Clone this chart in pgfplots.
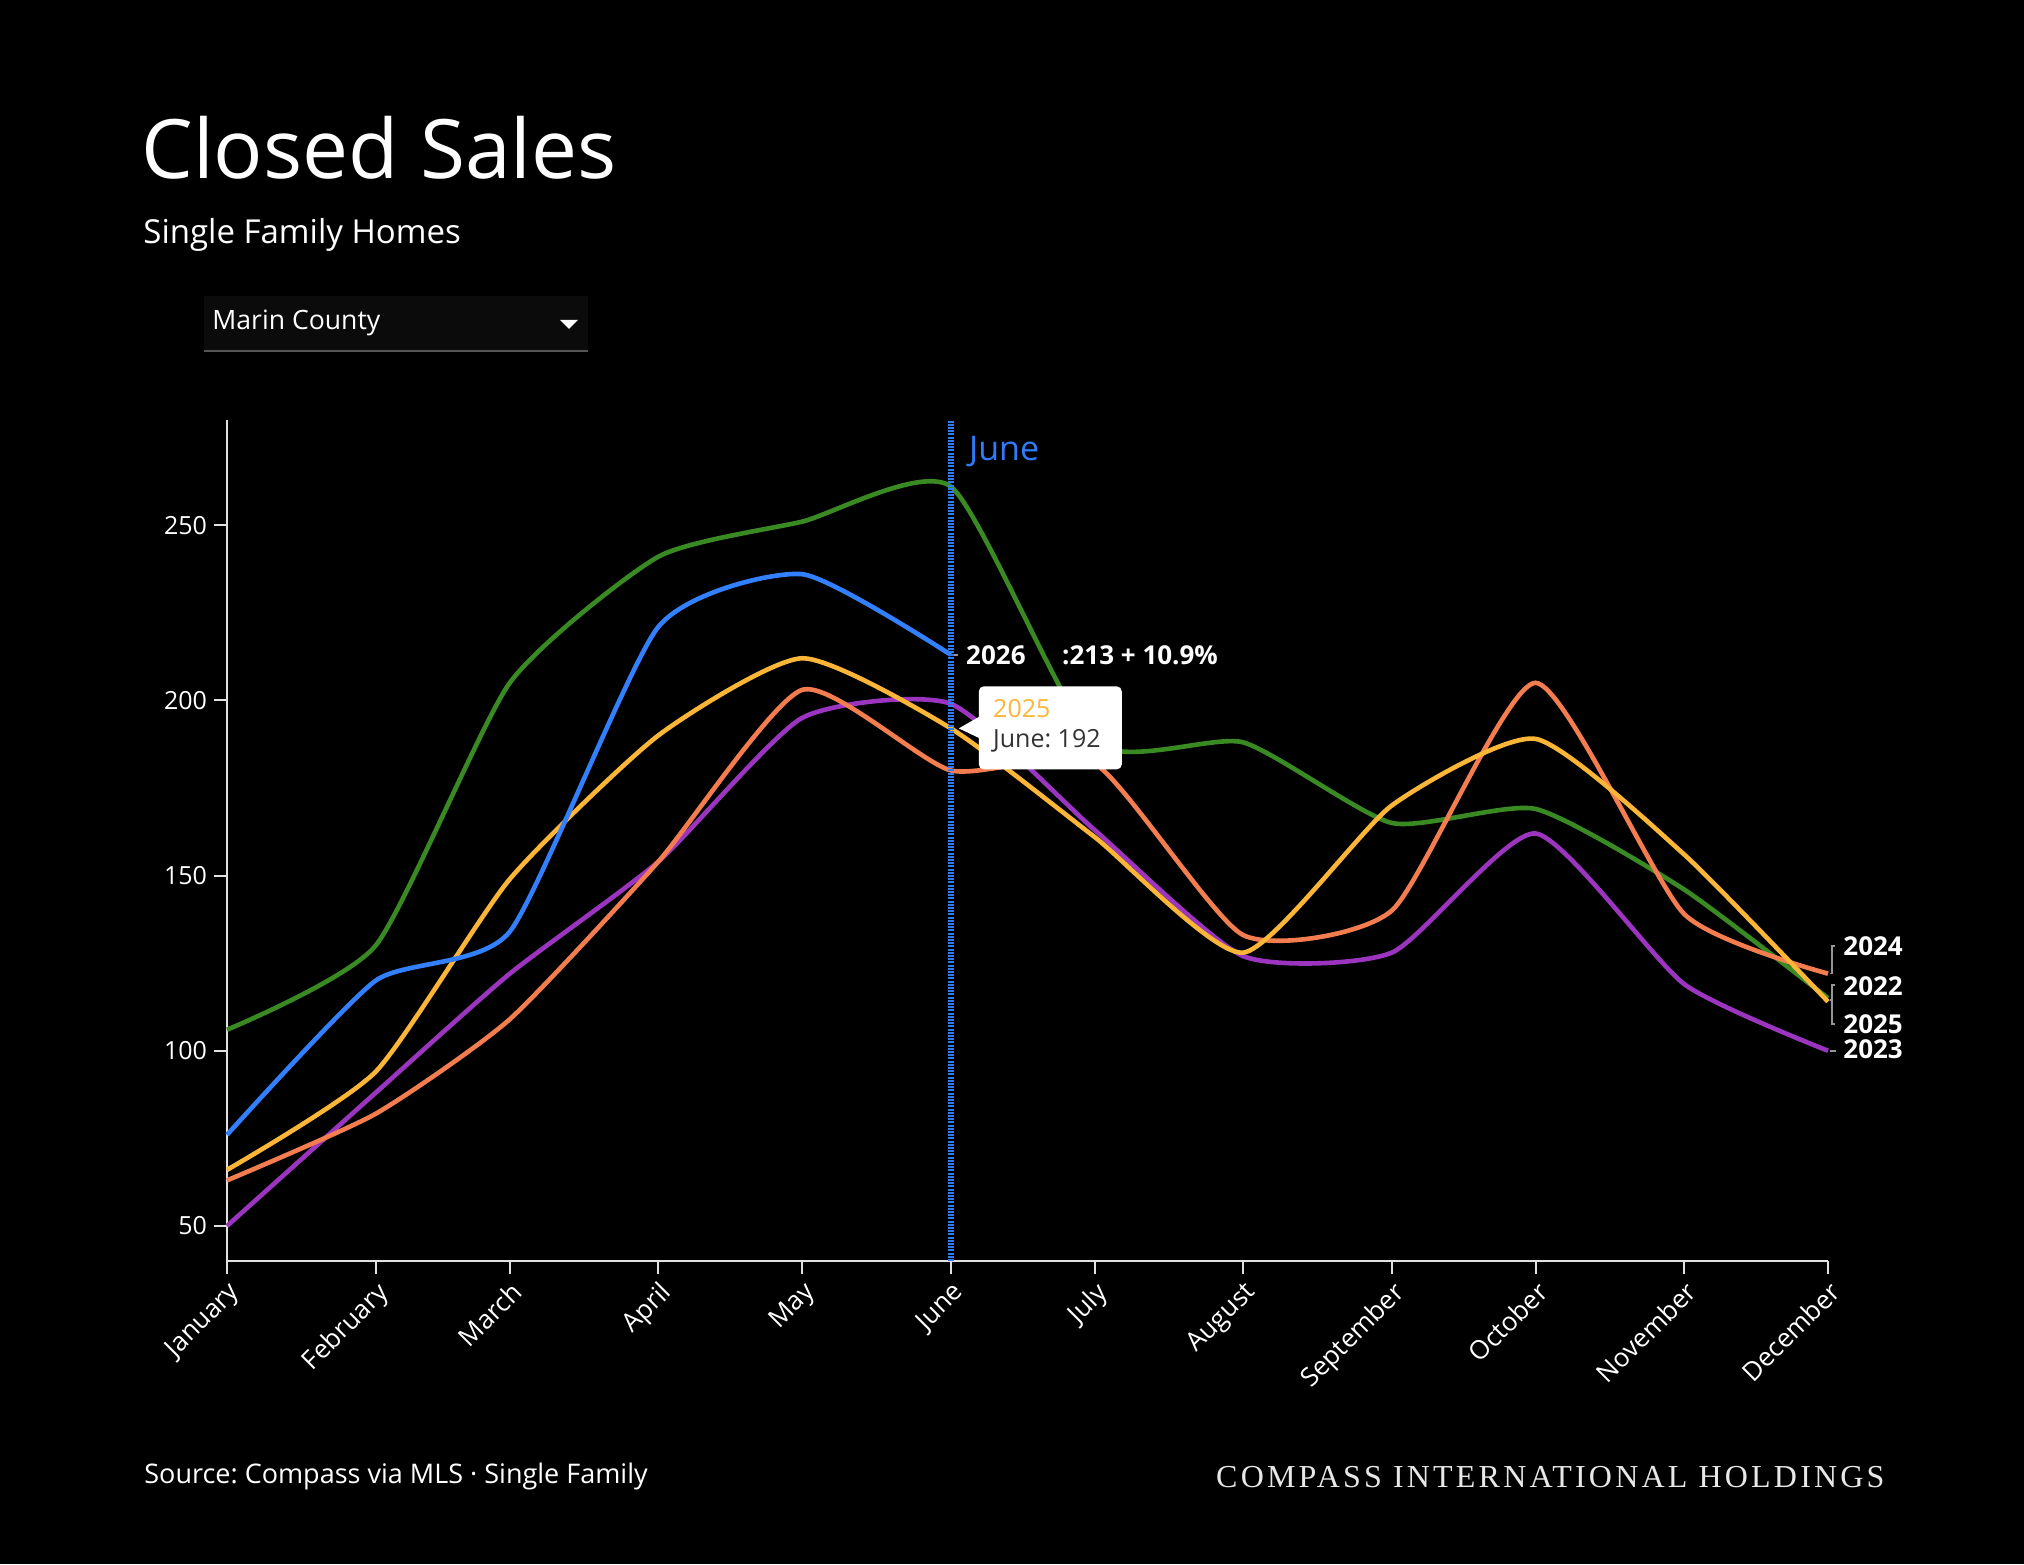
\documentclass[border=0pt]{standalone}
\usepackage{pgfplots}
\pgfplotsset{compat=1.18}
\usepackage{pgfplotstable}
\usepackage{fontspec}
\setmainfont{Open Sans}
\newfontfamily\serifcaps[LetterSpace=10]{Liberation Serif}
\frenchspacing

\definecolor{c22}{RGB}{58,138,36}
\definecolor{c23}{RGB}{155,53,192}
\definecolor{c24}{RGB}{244,125,80}
\definecolor{c25}{RGB}{251,181,55}
\definecolor{c26}{RGB}{51,128,255}
\definecolor{juneblue}{RGB}{47,123,250}
\definecolor{axisgray}{RGB}{225,225,225}
\definecolor{labelgray}{RGB}{150,150,150}
\definecolor{dropbg}{RGB}{11,11,11}
\definecolor{dropline}{RGB}{85,85,85}
\definecolor{tipgray}{RGB}{51,51,51}
\definecolor{footgray}{RGB}{232,232,232}

% Monthly closed sales; x is the day of the year of each month's start
\pgfplotstableread{
day y2022 y2023 y2024 y2025
0   106  50  63  66
31  130  88  82  94
59  205 122 109 149
90  241 154 154 190
120 251 195 203 212
151 261 199 180 192
181 188 163 182 161
212 188 127 133 128
243 165 128 140 170
273 169 162 205 189
304 146 119 139 156
334 115 100 122 114
}\pastyears

\pgfplotstableread{
day y2026
0   76
31  120
59  134
90  221
120 236
151 213
}\currentyear

\begin{document}
\begin{tikzpicture}
\useasboundingbox (0,0) rectangle (1012pt,782pt);
\fill[black] (0,0) rectangle (1012pt,782pt);

% heading
\node[anchor=base west, inner sep=0, text=white, font=\fontsize{41}{49}\selectfont] at (70.5pt,692.5pt) {Closed Sales};
\node[anchor=base west, inner sep=0, text=white, font=\fontsize{16.5}{20}\selectfont] at (71.5pt,660pt) {Single Family Homes};

% region selector
\fill[dropbg] (102pt,606.5pt) rectangle (294pt,634pt);
\draw[dropline, line width=1pt] (102pt,606.5pt) -- (294pt,606.5pt);
\node[anchor=base west, inner sep=0, text=white, font=\fontsize{13.3}{16}\selectfont] at (106pt,617pt) {Marin County};
\fill[white] (280pt,622pt) -- (289pt,622pt) -- (284.5pt,617.5pt) -- cycle;

% footer
\node[anchor=base west, inner sep=0, text=white, font=\fontsize{13.5}{16}\selectfont] at (72pt,40.5pt) {Source: Compass via MLS · Single Family};
\node[anchor=base east, inner sep=0, text=footgray, font=\serifcaps\fontsize{16}{19}\selectfont] at (942.5pt,38.5pt) {COMPASS INTERNATIONAL HOLDINGS};

\begin{axis}[
  at={(113.5pt,151.5pt)}, anchor=south west,
  scale only axis, width=800.5pt, height=420.5pt,
  xmin=0, xmax=334, ymin=40, ymax=280,
  axis x line*=bottom, axis y line*=left,
  axis line style={axisgray, line width=1pt, -},
  xtick={0,31,59,90,120,151,181,212,243,273,304,334},
  xticklabels={January,February,March,April,May,June,July,August,September,October,November,December},
  ytick={50,100,150,200,250},
  tick align=outside,
  major tick length=6.5pt,
  tick style={axisgray, line width=1pt},
  ticklabel style={text=white, font=\fontsize{12.5}{15}\selectfont},
  xticklabel style={rotate=45, anchor=north east, font=\fontsize{13}{15}\selectfont, inner sep=2pt},
  /pgf/number format/assume math mode=true,
  clip=false,
  every axis plot/.append style={line width=2.3pt, smooth, tension=0.35, mark=none},
]
\addplot[c22] table[x=day, y=y2022] {\pastyears};
\addplot[c23] table[x=day, y=y2023] {\pastyears};
\addplot[c24] table[x=day, y=y2024] {\pastyears};
\addplot[c25] table[x=day, y=y2025] {\pastyears};
\addplot[c26] table[x=day, y=y2026] {\currentyear};

% current month marker
\draw[juneblue, line width=3pt, dash pattern=on 1pt off 0.6pt] (axis cs:151,40) -- (axis cs:151,280);
\node[anchor=base west, inner sep=0, text=juneblue, font=\fontsize{17}{20}\selectfont] at ([xshift=9pt]axis cs:151,268.4) {June};

% current year value
\draw[labelgray, line width=0.8pt] ([xshift=1.5pt]axis cs:151,213) -- ([xshift=3.5pt]axis cs:151,213);
\node[anchor=base west, inner sep=0, text=white, font=\bfseries\fontsize{13}{15}\selectfont] at ([xshift=7.5pt,yshift=-5pt]axis cs:151,213) {2026};
\node[anchor=base west, inner sep=0, text=white, font=\bfseries\fontsize{13}{15}\selectfont] at ([xshift=55.5pt,yshift=-5pt]axis cs:151,213) {:213 + 10.9\%};

% tooltip on 2025
\coordinate (tip) at (axis cs:151,192);
\fill[white, rounded corners=2.5pt] ([xshift=14pt,yshift=-20.5pt]tip) rectangle ([xshift=85.5pt,yshift=21pt]tip);
\fill[white] ([xshift=4pt]tip) -- ([xshift=14.5pt,yshift=6pt]tip) -- ([xshift=14.5pt,yshift=-5pt]tip) -- cycle;
\node[anchor=base west, inner sep=0, text=c25, font=\fontsize{12.5}{15}\selectfont] at ([xshift=21pt,yshift=5.3pt]tip) {2025};
\node[anchor=base west, inner sep=0, text=tipgray, font=\fontsize{12.5}{15}\selectfont] at ([xshift=21pt,yshift=-9.5pt]tip) {June: 192};

% year labels at the line ends
\draw[labelgray, line width=0.8pt] ([xshift=1pt]axis cs:334,122) -- ([xshift=2pt]axis cs:334,122) -- ([xshift=2pt]axis cs:334,129.9) -- ([xshift=3.5pt]axis cs:334,129.9);
\draw[labelgray, line width=0.8pt] ([xshift=3.5pt]axis cs:334,118.7) -- ([xshift=2pt]axis cs:334,118.7) -- ([xshift=2pt]axis cs:334,107.6) -- ([xshift=3.5pt]axis cs:334,107.6);
\draw[labelgray, line width=0.8pt] ([xshift=1pt]axis cs:334,114.5) -- ([xshift=2pt]axis cs:334,114.5);
\draw[labelgray, line width=0.8pt] ([xshift=1pt]axis cs:334,100) -- ([xshift=4pt]axis cs:334,100);
\node[anchor=base west, inner sep=0, text=white, font=\bfseries\fontsize{13}{15}\selectfont] at ([xshift=7.5pt]axis cs:334,127.1) {2024};
\node[anchor=base west, inner sep=0, text=white, font=\bfseries\fontsize{13}{15}\selectfont] at ([xshift=7.5pt]axis cs:334,115.9) {2022};
\node[anchor=base west, inner sep=0, text=white, font=\bfseries\fontsize{13}{15}\selectfont] at ([xshift=7.5pt]axis cs:334,104.8) {2025};
\node[anchor=base west, inner sep=0, text=white, font=\bfseries\fontsize{13}{15}\selectfont] at ([xshift=7.5pt]axis cs:334,97.7) {2023};
\end{axis}
\end{tikzpicture}
\end{document}
